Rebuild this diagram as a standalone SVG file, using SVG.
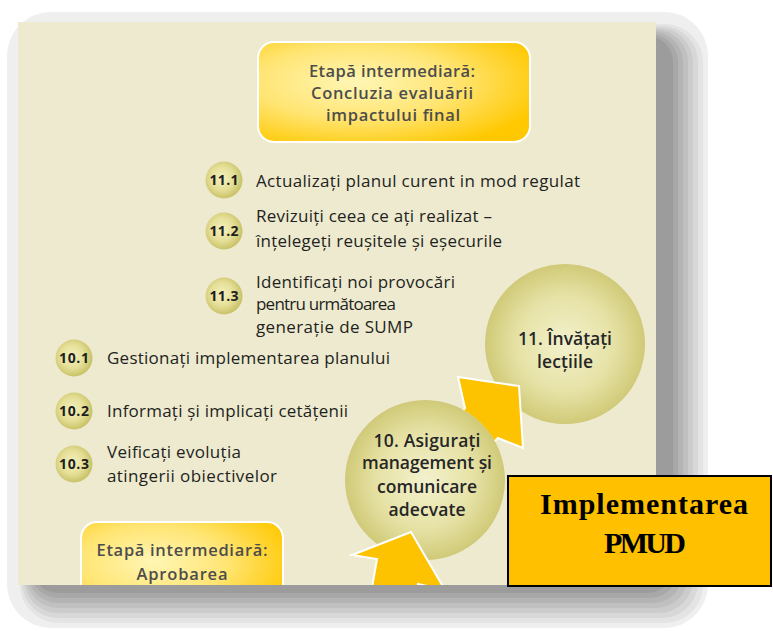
<svg xmlns="http://www.w3.org/2000/svg" width="773" height="631" viewBox="0 0 773 631">
<defs>
<style>
.t{font-family:"Open Sans","Noto Sans",sans-serif;fill:#231F20}
.it{font-size:17px}
.lb{font-size:14px;font-weight:700;text-anchor:middle;fill:#1E1E1E}
.bc{font-size:17.5px;font-weight:600;text-anchor:middle;fill:#262626}
.et{font-size:16.5px;font-weight:600;text-anchor:middle;fill:#4D4D4D}
.im{font-family:"Liberation Serif","Times New Roman",serif;font-size:30px;font-weight:700;text-anchor:middle;fill:#000}
.sc{fill:url(#gs)}
.bcirc{fill:url(#gb)}
.arr{fill:#FDC300;stroke:#FFFFFF;stroke-width:2;stroke-linejoin:miter}
.ybox{fill:url(#gy);stroke:#FFFFFF;stroke-width:2}
</style>
<radialGradient id="gs" cx="0.45" cy="0.45" r="0.55">
<stop offset="0" stop-color="#F5F2BE"/>
<stop offset="0.6" stop-color="#E4DE96"/>
<stop offset="1" stop-color="#C9C268"/>
</radialGradient>
<radialGradient id="gb" cx="0.5" cy="0.5" r="0.5">
<stop offset="0" stop-color="#F3F1CD"/>
<stop offset="0.6" stop-color="#E6E2A6"/>
<stop offset="0.9" stop-color="#D6D083"/>
<stop offset="1" stop-color="#CFC978"/>
</radialGradient>
<radialGradient id="gy" cx="0.36" cy="0.4" r="0.72">
<stop offset="0" stop-color="#FFF6B5"/>
<stop offset="0.5" stop-color="#FFE574"/>
<stop offset="1" stop-color="#FFC800"/>
</radialGradient>
<clipPath id="panelClip"><rect x="18" y="22" width="638" height="563"/></clipPath>
<mask id="m10" maskUnits="userSpaceOnUse" x="0" y="0" width="773" height="631">
<rect x="0" y="0" width="773" height="631" fill="#FFFFFF"/>
<circle cx="425" cy="480" r="80" fill="#000000"/>
</mask>
</defs>
<rect x="0" y="0" width="773" height="631" fill="#FFFFFF"/>
<g id="shadow">
<rect x="7" y="12" width="701" height="616" rx="44" fill="#EEEFEE"/>
<rect x="20" y="24" width="683" height="599" rx="38" fill="#E4E4E4"/>
<rect x="22" y="26" width="676" height="592" rx="36" fill="#D8D8D8"/>
<rect x="24" y="28" width="669" height="585" rx="34" fill="#CCCCCC"/>
<rect x="26" y="30" width="662" height="578" rx="32" fill="#C0C0C0"/>
<rect x="28" y="32" width="655" height="571" rx="30" fill="#B4B4B4"/>
<rect x="30" y="34" width="648" height="564" rx="28" fill="#A8A8A8"/>
<rect x="32" y="36" width="641" height="557" rx="26" fill="#9C9C9C"/>
</g>
<rect id="panel" x="18" y="22" width="638" height="563" fill="#EDEAD0"/>
<g id="stage-top">
<rect class="ybox" x="258" y="42" width="272" height="100" rx="16"/>
<text class="t et" x="392" y="77" textLength="166">Etapă intermediară:</text>
<text class="t et" x="392" y="99" textLength="162">Concluzia evaluării</text>
<text class="t et" x="393" y="121" textLength="134">impactului final</text>
</g>
<g id="step-11-1">
<circle class="sc" cx="224" cy="180" r="18.5"/>
<text class="t lb" x="224" y="185" textLength="29">11.1</text>
<text class="t it" x="256" y="187" textLength="324">Actualizați planul curent in mod regulat</text>
</g>
<g id="step-11-2">
<circle class="sc" cx="224" cy="231" r="18.5"/>
<text class="t lb" x="224" y="236" textLength="29">11.2</text>
<text class="t it" x="256" y="222" textLength="236">Revizuiți ceea ce ați realizat –</text>
<text class="t it" x="256" y="247" textLength="246">înțelegeți reușitele și eșecurile</text>
</g>
<g id="step-11-3">
<circle class="sc" cx="224" cy="296" r="18.5"/>
<text class="t lb" x="224" y="301" textLength="29">11.3</text>
<text class="t it" x="256" y="288" textLength="199">Identificați noi provocări</text>
<text class="t it" x="256" y="310" textLength="140">pentru următoarea</text>
<text class="t it" x="256" y="333" textLength="157">generație de SUMP</text>
</g>
<g id="step-10-1">
<circle class="sc" cx="74" cy="358" r="18.5"/>
<text class="t lb" x="74" y="363" textLength="30">10.1</text>
<text class="t it" x="107" y="364" textLength="283">Gestionați implementarea planului</text>
</g>
<g id="step-10-2">
<circle class="sc" cx="74" cy="411" r="18.5"/>
<text class="t lb" x="74" y="416" textLength="30">10.2</text>
<text class="t it" x="107" y="417" textLength="241">Informați și implicați cetățenii</text>
</g>
<g id="step-10-3">
<circle class="sc" cx="74" cy="464" r="18.5"/>
<text class="t lb" x="74" y="469" textLength="30">10.3</text>
<text class="t it" x="107" y="458" textLength="134">Veificați evoluția</text>
<text class="t it" x="107" y="482" textLength="170">atingerii obiectivelor</text>
</g>
<g id="step-11">
<circle class="bcirc" cx="565" cy="344" r="80"/>
<text class="t bc" x="565" y="345" textLength="94">11. Învățați</text>
<text class="t bc" x="565" y="368" textLength="56">lecțiile</text>
</g>
<g id="step-10">
<circle class="bcirc" cx="425" cy="480" r="80"/>
<text class="t bc" x="427" y="447" textLength="107">10. Asigurați</text>
<text class="t bc" x="427" y="469" textLength="130">management și</text>
<text class="t bc" x="427" y="493" textLength="100">comunicare</text>
<text class="t bc" x="427" y="516" textLength="77">adecvate</text>
</g>
<g id="stage-bottom" clip-path="url(#panelClip)">
<rect class="ybox" x="81" y="522" width="202" height="100" rx="16"/>
<text class="t et" x="182" y="556" textLength="171">Etapă  intermediară:</text>
<text class="t et" x="182" y="580" textLength="91">Aprobarea</text>
</g>
<g id="connectors">
<polygon class="arr" mask="url(#m10)" points="458,377 519,386 523,448 498,438 468,468 440,440 465,408"/>
<polygon class="arr" clip-path="url(#panelClip)" points="352,555 411,532 445,590 418,584 414,605 369,605 377,559"/>
</g>
<g id="title">
<rect x="508" y="476" width="263" height="110" fill="#FFC000" stroke="#000000" stroke-width="2"/>
<text class="im" x="644" y="514" textLength="208">Implementarea</text>
<text class="im" x="645" y="553" textLength="82">PMUD</text>
</g>
</svg>
